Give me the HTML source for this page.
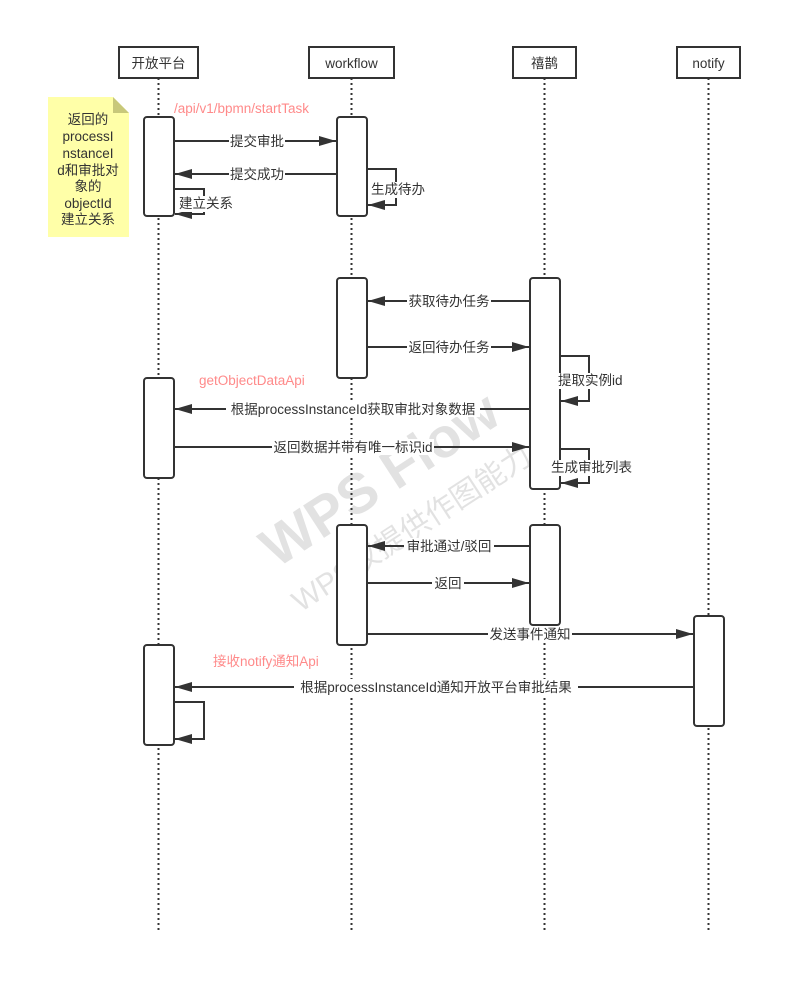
<!DOCTYPE html>
<html><head><meta charset="utf-8">
<style>
html,body{margin:0;padding:0;background:#fff;}
svg{display:block;}
text{font-family:"Liberation Sans","Noto Sans CJK SC",sans-serif;font-size:13.5px;fill:#333;}
</style></head><body>
<svg width="802" height="992" viewBox="0 0 802 992" xmlns="http://www.w3.org/2000/svg">
<defs>
<marker id="ah" markerWidth="18" markerHeight="10" refX="17" refY="5" orient="auto" markerUnits="userSpaceOnUse">
<path d="M0,0 L17,5 L0,10 Z" fill="#333"/>
</marker>
</defs>
<g transform="translate(390,495) rotate(-33)" opacity="0.11">
<text x="0" y="0" text-anchor="middle" style="font-size:56px;font-weight:bold;fill:#000">WPS Flow</text>
<text x="0" y="50" text-anchor="middle" style="font-size:30px;fill:#000">WPS仅提供作图能力</text>
</g>
<g stroke="#333" stroke-width="2" stroke-dasharray="2,3">
<line x1="158.5" y1="78" x2="158.5" y2="930"/>
<line x1="351.5" y1="78" x2="351.5" y2="930"/>
<line x1="544.5" y1="78" x2="544.5" y2="930"/>
<line x1="708.5" y1="78" x2="708.5" y2="930"/>
</g>
<g fill="#fff" stroke="#333" stroke-width="2">
<rect x="119" y="47" width="79" height="31"/>
<rect x="309" y="47" width="85" height="31"/>
<rect x="513" y="47" width="63" height="31"/>
<rect x="677" y="47" width="63" height="31"/>
</g>
<text x="158.5" y="68" text-anchor="middle">开放平台</text>
<text x="351.5" y="68" text-anchor="middle">workflow</text>
<text x="544.5" y="68" text-anchor="middle">禧鹊</text>
<text x="708.5" y="68" text-anchor="middle">notify</text>
<path d="M48,97 L113,97 L129,113 L129,237 L48,237 Z" fill="#ffffa8"/>
<path d="M113,97 L113,113 L129,113 Z" fill="#c8c87a"/>
<g text-anchor="middle">
<text x="88" y="124">返回的</text>
<text x="88" y="141">processI</text>
<text x="88" y="158">nstanceI</text>
<text x="88" y="175">d和审批对</text>
<text x="88" y="191">象的</text>
<text x="88" y="208">objectId</text>
<text x="88" y="224">建立关系</text>
</g>
<g fill="#fff" stroke="#333" stroke-width="2">
<rect x="144" y="117" width="30" height="99" rx="3"/>
<rect x="144" y="378" width="30" height="100" rx="3"/>
<rect x="144" y="645" width="30" height="100" rx="3"/>
<rect x="337" y="117" width="30" height="99" rx="3"/>
<rect x="337" y="278" width="30" height="100" rx="3"/>
<rect x="337" y="525" width="30" height="120" rx="3"/>
<rect x="530" y="278" width="30" height="211" rx="3"/>
<rect x="530" y="525" width="30" height="100" rx="3"/>
<rect x="694" y="616" width="30" height="110" rx="3"/>
</g>
<g stroke="#333" stroke-width="2" fill="none" marker-end="url(#ah)">
<line x1="174" y1="141" x2="336" y2="141"/>
<line x1="337" y1="174" x2="175" y2="174"/>
<polyline points="174,189 204,189 204,214 175,214"/>
<polyline points="367,169 396,169 396,205 368,205"/>
<line x1="530" y1="301" x2="368" y2="301"/>
<line x1="367" y1="347" x2="529" y2="347"/>
<polyline points="560,356 589,356 589,401 561,401"/>
<line x1="530" y1="409" x2="175" y2="409"/>
<line x1="174" y1="447" x2="529" y2="447"/>
<polyline points="560,449 589,449 589,483 561,483"/>
<line x1="530" y1="546" x2="368" y2="546"/>
<line x1="367" y1="583" x2="529" y2="583"/>
<line x1="367" y1="634" x2="693" y2="634"/>
<line x1="694" y1="687" x2="175" y2="687"/>
<polyline points="174,702 204,702 204,739 175,739"/>
</g>
<g>
<rect x="229" y="133" width="56" height="16" fill="#fff"/><text x="257" y="146" text-anchor="middle">提交审批</text>
<rect x="229" y="166" width="56" height="16" fill="#fff"/><text x="257" y="179" text-anchor="middle">提交成功</text>
<rect x="178" y="196" width="56" height="16" fill="#fff"/><text x="179" y="208">建立关系</text>
<rect x="370" y="182" width="56" height="16" fill="#fff"/><text x="371" y="194">生成待办</text>
<rect x="407" y="293" width="84" height="16" fill="#fff"/><text x="449" y="306" text-anchor="middle">获取待办任务</text>
<rect x="407" y="339" width="84" height="16" fill="#fff"/><text x="449" y="352" text-anchor="middle">返回待办任务</text>
<rect x="557" y="373" width="70" height="16" fill="#fff"/><text x="558" y="385">提取实例id</text>
<rect x="226" y="401" width="254" height="16" fill="#fff"/><text x="353" y="414" text-anchor="middle">根据processInstanceId获取审批对象数据</text>
<rect x="272" y="439" width="162" height="16" fill="#fff"/><text x="353" y="452" text-anchor="middle">返回数据并带有唯一标识id</text>
<rect x="550" y="460" width="82" height="16" fill="#fff"/><text x="551" y="472">生成审批列表</text>
<rect x="404" y="538" width="90" height="16" fill="#fff"/><text x="449" y="551" text-anchor="middle">审批通过/驳回</text>
<rect x="432" y="575" width="32" height="16" fill="#fff"/><text x="448" y="588" text-anchor="middle">返回</text>
<rect x="488" y="626" width="84" height="16" fill="#fff"/><text x="530" y="639" text-anchor="middle">发送事件通知</text>
<rect x="294" y="679" width="284" height="16" fill="#fff"/><text x="436" y="692" text-anchor="middle">根据processInstanceId通知开放平台审批结果</text>
</g>
<g>
<text x="174" y="113" style="fill:#ff8a8a">/api/v1/bpmn/startTask</text>
<text x="199" y="385" style="fill:#ff8a8a">getObjectDataApi</text>
<text x="213" y="666" style="fill:#ff8a8a">接收notify通知Api</text>
</g>
</svg>
</body></html>
